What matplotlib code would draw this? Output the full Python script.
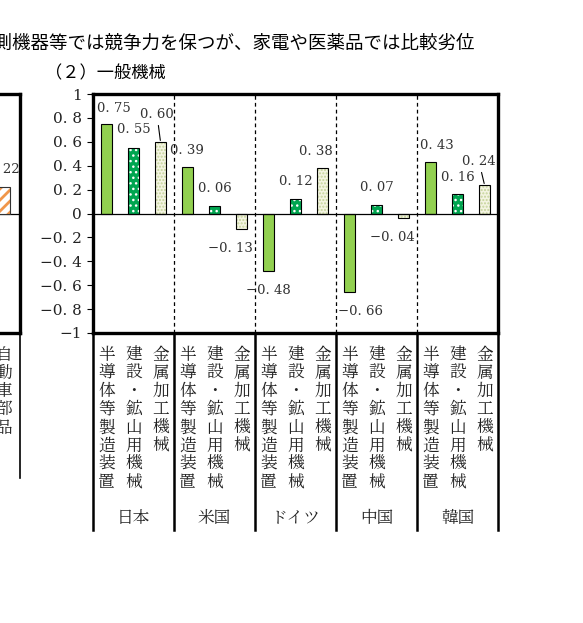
import numpy as np
import matplotlib
matplotlib.use("Agg")
import matplotlib.pyplot as plt

plt.rcParams['font.family'] = ['Noto Sans CJK JP', 'DejaVu Sans']

# データ
countries = ["日本", "米国", "ドイツ", "中国", "韓国"]
items = ["半導体等製造装置", "建設・鉱山用機械", "金属加工機械"]
semicon = [0.75, 0.39, -0.48, -0.66, 0.43]
construction = [0.55, 0.06, 0.12, 0.07, 0.16]
metalwork = [0.60, -0.13, 0.38, -0.04, 0.24]
left_item = "自動車部品"
left_value = 0.22
title = "計測機器等では競争力を保つが、家電や医薬品では比較劣位"
subtitle = "（２）一般機械"
yticks = np.arange(-1.0, 1.01, 0.2)

# ラベル位置の微調整 (px)
lab_dx = [[7.5, 0, -3.5], [-0.5, 0.5, -11.5], [-0.5, 0.5, -7], [10.5, 0, -11], [6, 0.5, -5.5]]
lab_dy = [[15.5, 18, 27], [16, 18, -19.5], [-20, 17.5, 16.5], [-19, 17.5, -19], [16.5, 17, 23]]
leader = [[False, False, True], [False] * 3, [False] * 3, [False] * 3, [False, False, True]]

W, H = 583, 623
fig = plt.figure(figsize=(W / 100, H / 100), dpi=100)

def px_axes(x0, y0, x1, y1):
    return fig.add_axes([x0 / W, 1 - y1 / H, (x1 - x0) / W, (y1 - y0) / H])

serif = ['DejaVu Serif']
jp = ['Noto Serif CJK JP', 'Noto Sans CJK JP']

def fmt(v, nd):
    if abs(v) < 1e-9:
        return "0"
    s = f"{abs(v):.{nd}f}"
    if nd == 1 and s.endswith(".0"):
        s = s[:-2]
    s = s.replace(".", ". ")
    return ("\u2212" if v < 0 else "") + s

# メインの図
ax = px_axes(93, 94, 498, 333)
x = np.arange(15)
xs1 = x[0::3]
xs2 = x[1::3]
xs3 = x[2::3]
bw = 0.43
ax.bar(xs1, semicon, bw, color='#92D050', edgecolor='black', linewidth=0.8, zorder=3)
ax.bar(xs2, construction, bw, color='#00A550', edgecolor='white', hatch='...', linewidth=0, zorder=3)
ax.bar(xs2, construction, bw, fill=False, edgecolor='black', linewidth=0.8, zorder=4)
ax.bar(xs3, metalwork, bw, color='#F4F4E2', edgecolor='#C5D49A', hatch='.....', linewidth=0, zorder=3)
ax.bar(xs3, metalwork, bw, fill=False, edgecolor='black', linewidth=0.8, zorder=4)

ax.axhline(0, color='black', linewidth=0.9, zorder=5)
for b in [2.5, 5.5, 8.5, 11.5]:
    ax.axvline(b, color='black', linewidth=0.9, linestyle=(0, (3, 2.5)), zorder=1)

ax.set_xlim(-0.5, 14.5)
ax.set_ylim(-1, 1)
ax.set_xticks([])
ax.set_yticks(yticks)
ax.set_yticklabels([fmt(t, 1) for t in yticks], family=serif, fontsize=11, color='#222222')
ax.tick_params(axis='y', direction='out', length=4, width=0.8, pad=4)
for s in ax.spines.values():
    s.set_linewidth(2.4)

# データラベル
for g in range(5):
    for j in range(3):
        v = [semicon, construction, metalwork][j][g]
        xp = g * 3 + j
        ap = dict(arrowstyle='-', color='black', lw=0.8, shrinkA=1, shrinkB=1) if leader[g][j] else None
        ax.annotate(fmt(v, 2), xy=(xp, v), xytext=(lab_dx[g][j], lab_dy[g][j]),
                    textcoords='offset pixels', ha='center', va='center',
                    family=serif, fontsize=9.5, color='#333333',
                    arrowprops=ap, zorder=6)

# 下の項目ラベル
def ya(ypx):
    return (333 - ypx) / 239

trans = ax.get_xaxis_transform()
for g in range(5):
    for j in range(3):
        for k, ch in enumerate(items[j]):
            ax.text(g * 3 + j, ya(355 + k * 18.2), ch, transform=trans, ha='center', va='center',
                    fontsize=12, color='#222222', family=jp)
    ax.text(g * 3 + 1, ya(518), countries[g], transform=trans, ha='center', va='center',
            fontsize=12, color='#222222', family=jp)
for b in [-0.5, 2.5, 5.5, 8.5, 11.5, 14.5]:
    ax.plot([b, b], [0, ya(530)], transform=trans, color='black', linewidth=1.8, clip_on=False)

# 左側のパネル (切れている部分)
axl = px_axes(-385, 94, 20, 333)
plt.rcParams['hatch.linewidth'] = 2.0
axl.bar([14], [left_value], bw, color='white', edgecolor='#F0964A', hatch='///', linewidth=0, zorder=3)
plt.rcParams['hatch.linewidth'] = 1.0
axl.bar([14], [left_value], bw, fill=False, edgecolor='#333333', linewidth=0.8, zorder=4)
axl.axhline(0, color='black', linewidth=0.9)
axl.set_xlim(-0.5, 14.6)
axl.set_ylim(-1, 1)
axl.set_xticks([])
axl.set_yticks([])
for s in axl.spines.values():
    s.set_linewidth(2.4)
axl.annotate(fmt(left_value, 2), xy=(14, left_value), xytext=(-1, 18), textcoords='offset pixels',
             ha='center', va='center', family=serif, fontsize=9.5, color='#333333')
transl = axl.get_xaxis_transform()
for k, ch in enumerate(left_item):
    axl.text(14, ya(355 + k * 18.2), ch, transform=transl, ha='center', va='center',
             fontsize=12, color='#222222', family=jp)
axl.plot([14.6, 14.6], [0, ya(478)], transform=transl, color='black', linewidth=1.2, clip_on=False)

# タイトル
fig.text(475 / W, 1 - 44 / H, title, ha='right', va='center', fontsize=13.3)
fig.text(45 / W, 1 - 73 / H, subtitle, ha='left', va='center', fontsize=12.4)

fig.savefig("out.png", dpi=100)
